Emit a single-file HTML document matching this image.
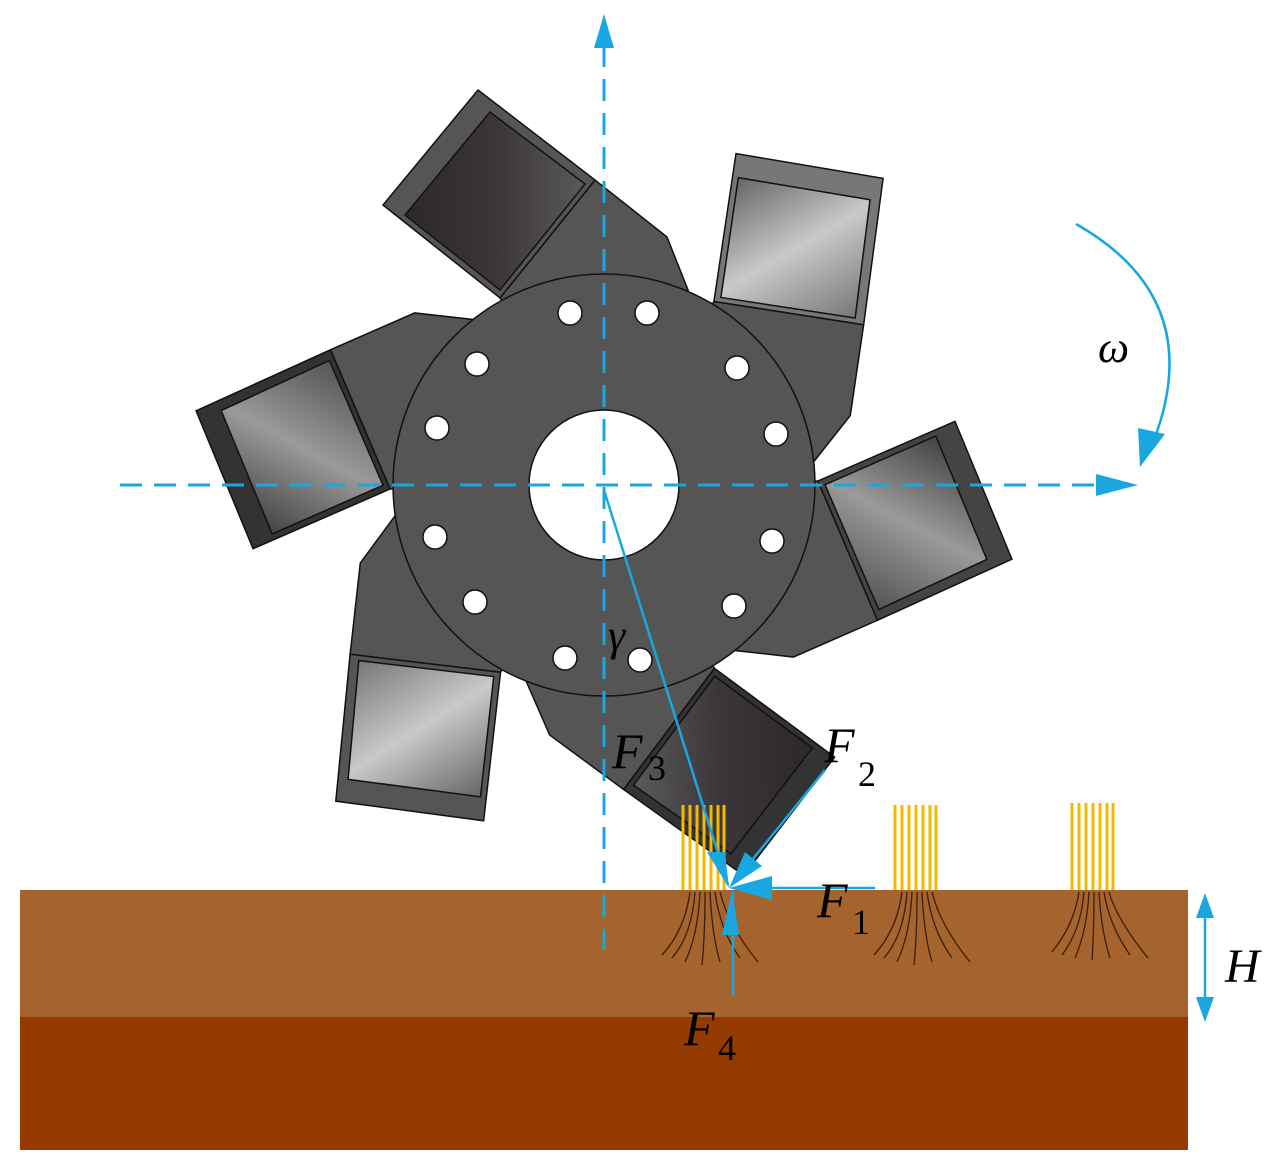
<!DOCTYPE html>
<html><head><meta charset="utf-8"><style>
html,body{margin:0;padding:0;background:#fff;}
svg{display:block;}
text{font-family:"Liberation Serif",serif;font-style:italic;fill:#000;}
text.s{font-style:normal;}
</style></head><body>
<svg width="1280" height="1167" viewBox="0 0 1280 1167" xmlns="http://www.w3.org/2000/svg">
<defs>
<linearGradient id="gd" x1="0" y1="0" x2="1" y2="0"><stop offset="0" stop-color="#2e282c"/><stop offset="0.5" stop-color="#3b3539"/><stop offset="1" stop-color="#5a5a5a"/></linearGradient>
<linearGradient id="gl" x1="0" y1="0" x2="1" y2="0"><stop offset="0" stop-color="#666"/><stop offset="0.5" stop-color="#c9c9c9"/><stop offset="1" stop-color="#777"/></linearGradient>
<linearGradient id="gm" x1="0" y1="0" x2="1" y2="0"><stop offset="0" stop-color="#444"/><stop offset="0.5" stop-color="#9a9a9a"/><stop offset="1" stop-color="#555"/></linearGradient>
<g id="plate"><polygon points="500,298 595,180 667,237 690,295 604,485" fill="#555" stroke="#111" stroke-width="1.5"/></g>
</defs>
<rect x="20" y="890" width="1168" height="128" fill="#a5632d"/>
<rect x="20" y="1017" width="1168" height="133" fill="#953a00"/>
<g stroke="#111" stroke-width="1.5">
<g transform="rotate(0 604 485)"><use href="#plate"/><polygon points="478,90 595,180 500,298 383,205" fill="#555"/><polygon points="490,112 585,184 500,290 405,215" fill="url(#gd)"/></g>
<g transform="rotate(60 604 485)"><use href="#plate"/><polygon points="478,90 595,180 500,298 383,205" fill="#777"/><polygon points="490,112 585,184 500,290 405,215" fill="url(#gl)"/></g>
<g transform="rotate(118 604 485)"><use href="#plate"/><polygon points="478,90 595,180 500,298 383,205" fill="#444"/><polygon points="490,112 585,184 500,290 405,215" fill="url(#gm)"/></g>
<g transform="rotate(178 604 485)"><use href="#plate"/><polygon points="478,90 595,180 500,298 383,205" fill="#333"/><polygon points="490,112 585,184 500,290 405,215" fill="url(#gd)"/></g>
<g transform="rotate(238 604 485)"><use href="#plate"/><polygon points="478,90 595,180 500,298 383,205" fill="#555"/><polygon points="490,112 585,184 500,290 405,215" fill="url(#gl)"/></g>
<g transform="rotate(298 604 485)"><use href="#plate"/><polygon points="478,90 595,180 500,298 383,205" fill="#333"/><polygon points="490,112 585,184 500,290 405,215" fill="url(#gm)"/></g>
</g>
<circle cx="604" cy="485" r="211" fill="#555" stroke="#111" stroke-width="1.5"/>
<circle cx="604" cy="485" r="75" fill="#fff" stroke="#111" stroke-width="1.5"/>
<g fill="#fff" stroke="#111" stroke-width="1.5">
<circle cx="570" cy="313" r="12"/><circle cx="647" cy="313" r="12"/><circle cx="737" cy="368" r="12"/><circle cx="776" cy="434" r="12"/><circle cx="772" cy="541" r="12"/><circle cx="734" cy="606" r="12"/><circle cx="640" cy="660" r="12"/><circle cx="565" cy="658" r="12"/><circle cx="475" cy="602" r="12"/><circle cx="435" cy="537" r="12"/><circle cx="437" cy="428" r="12"/><circle cx="477" cy="364" r="12"/>
</g>
<g stroke="#f5b800" stroke-width="3">
<line x1="683" y1="805" x2="683" y2="890"/><line x1="690" y1="805" x2="690" y2="890"/><line x1="697" y1="805" x2="697" y2="890"/><line x1="704" y1="805" x2="704" y2="890"/><line x1="711" y1="805" x2="711" y2="890"/><line x1="718" y1="805" x2="718" y2="890"/><line x1="724" y1="805" x2="724" y2="890"/>
<line x1="895" y1="805" x2="895" y2="890"/><line x1="902" y1="805" x2="902" y2="890"/><line x1="909" y1="805" x2="909" y2="890"/><line x1="916" y1="805" x2="916" y2="890"/><line x1="923" y1="805" x2="923" y2="890"/><line x1="930" y1="805" x2="930" y2="890"/><line x1="936" y1="805" x2="936" y2="890"/>
<line x1="1072" y1="803" x2="1072" y2="890"/><line x1="1079" y1="803" x2="1079" y2="890"/><line x1="1086" y1="803" x2="1086" y2="890"/><line x1="1093" y1="803" x2="1093" y2="890"/><line x1="1100" y1="803" x2="1100" y2="890"/><line x1="1107" y1="803" x2="1107" y2="890"/><line x1="1113" y1="803" x2="1113" y2="890"/>
</g>
<g stroke="#3a1e0a" stroke-width="1.3" fill="none">
<path d="M690 892 Q685 930 662 955"/><path d="M695 892 Q692 935 672 958"/><path d="M700 892 Q698 935 685 962"/><path d="M705 892 Q705 935 702 965"/><path d="M710 892 Q712 935 720 962"/><path d="M715 892 Q720 930 740 958"/><path d="M720 892 Q728 925 758 962"/>
<path d="M902 892 Q897 930 874 955"/><path d="M907 892 Q904 935 884 958"/><path d="M912 892 Q910 935 897 962"/><path d="M917 892 Q917 935 914 965"/><path d="M922 892 Q924 935 932 962"/><path d="M927 892 Q932 930 952 958"/><path d="M932 892 Q940 925 970 962"/>
<path d="M1079 892 Q1074 925 1052 952"/><path d="M1084 892 Q1081 930 1062 955"/><path d="M1089 892 Q1087 930 1075 958"/><path d="M1094 892 Q1094 930 1092 960"/><path d="M1099 892 Q1101 930 1110 958"/><path d="M1104 892 Q1109 925 1130 955"/><path d="M1109 892 Q1117 920 1148 958"/>
</g>
<g stroke="#1aa7e0" stroke-width="3" stroke-dasharray="22,12" fill="none">
<line x1="604" y1="45" x2="604" y2="950"/>
<line x1="120" y1="485" x2="1110" y2="485"/>
</g>
<g fill="#1aa7e0">
<polygon points="604,14 594,48 614,48"/>
<polygon points="1138,485 1096,474 1096,496"/>
<polygon points="1140,467 1138,428 1165,434"/>
<polygon points="729,888 707,852 725,852"/>
<polygon points="729,888 745,852 762,866"/>
<polygon points="729,888 772,876 772,900"/>
<polygon points="732,890 722,935 739,935"/>
<polygon points="1205,893 1196,918 1214,918"/>
<polygon points="1205,1022 1196,997 1214,997"/>
</g>
<g stroke="#1aa7e0" stroke-width="2.5" fill="none">
<path d="M1076 224 Q1210 300 1152 445"/>
<line x1="604" y1="490" x2="728" y2="885"/>
<line x1="825" y1="770" x2="740" y2="875"/>
<line x1="875" y1="888" x2="735" y2="888"/>
<line x1="733" y1="892" x2="733" y2="995"/>
<line x1="1205" y1="910" x2="1205" y2="1005"/>
</g>
<text x="1098" y="362" font-size="44">ω</text>
<text x="608" y="650" font-size="44">γ</text>
<text x="612" y="768" font-size="50">F</text><text class="s" x="648" y="780" font-size="36">3</text>
<text x="824" y="762" font-size="50">F</text><text class="s" x="858" y="786" font-size="36">2</text>
<text x="817" y="917" font-size="50">F</text><text class="s" x="852" y="934" font-size="36">1</text>
<text x="684" y="1045" font-size="50">F</text><text class="s" x="718" y="1060" font-size="36">4</text>
<text x="1225" y="982" font-size="48">H</text>
</svg>
</body></html>
